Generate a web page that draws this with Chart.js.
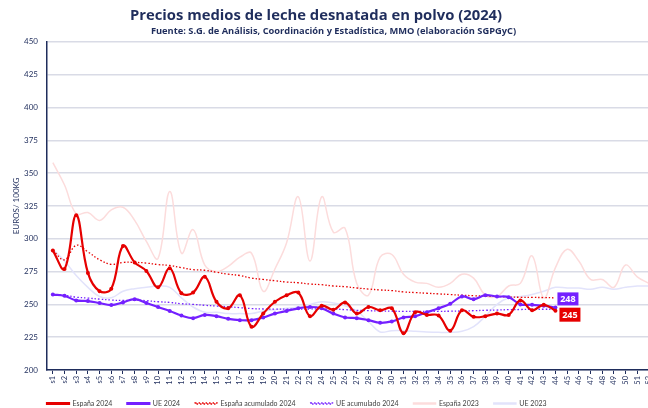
<!DOCTYPE html>
<html>
<head>
<meta charset="utf-8">
<script src="https://cdn.jsdelivr.net/npm/chart.js@4"></script>
<style>
  body { margin: 0; overflow: hidden; background: #fff; }
  #wrap { width: 660px; height: 408px; }
</style>
</head>
<body>
<div id="wrap"><canvas id="linechart"></canvas></div>
<script>
// semanas
const semanas = ['s1','s2','s3','s4','s5','s6','s7','s8','s9','s10','s11','s12','s13',
  's14','s15','s16','s17','s18','s19','s20','s21','s22','s23','s24','s25','s26',
  's27','s28','s29','s30','s31','s32','s33','s34','s35','s36','s37','s38','s39',
  's40','s41','s42','s43','s44','s45','s46','s47','s48','s49','s50','s51','s52'];

const espana2024 = [291, 277, 318, 274, 260, 262, 294.5, 282, 275.5, 263, 277.5, 258.5, 259,
  271, 252, 247, 257, 233, 243, 252, 257, 259, 241, 249, 246, 251.5,
  243, 248, 245.5, 247, 228, 244, 242, 241.5, 230, 245.5, 240.5, 241, 243,
  242, 253, 245.5, 249.7, 245.2];

const ue2024 = [257.5, 256.5, 253, 252.5, 251, 249.5, 251.5, 254, 251, 248, 245, 241.5, 239.5,
  242, 241, 239, 238, 238, 240, 243, 245, 247, 248, 247, 243, 240,
  239.5, 238, 236, 237, 240, 241, 244, 247, 250.5, 256, 254, 257, 256,
  255.5, 250, 249.7, 249, 247.7];

const espanaAcum2024 = [291, 284, 295, 290, 284, 280.5, 282, 282, 281.5, 280.3, 279.7, 278, 276.5,
  276, 274.5, 273, 272, 270, 269, 268, 267, 266.5, 265.5, 265, 264, 263.5,
  262.5, 261.7, 261, 260.5, 259.5, 259, 258.5, 258, 257.5, 257, 256.6, 256.3, 256,
  255.6, 255.4, 255.3, 255.2, 255];

const ueAcum2024 = [257.5, 257, 255.5, 254.8, 254, 253.3, 253, 253.3, 252.8, 252, 251.5, 250.5, 250,
  249.3, 248.7, 248.2, 247.5, 246.8, 246.5, 246.4, 246.4, 246.4, 246.5, 246.6, 246.5, 246,
  245.5, 245.2, 245, 244.8, 244.7, 244.6, 244.6, 244.7, 244.8, 245, 245.2, 245.5, 245.7,
  246, 246.1, 246.2, 246.3, 246.3];

const espana2023 = [358, 341, 319, 320, 314, 322, 324, 314, 298, 285, 336, 289, 307,
  280, 275, 279, 286, 289, 260, 277, 297, 332, 283, 332, 305, 308,
  266, 257, 286, 288, 273, 267, 266, 263, 266, 273, 270, 257, 256,
  264, 266, 287, 255, 278, 292, 283, 269, 269, 263, 280, 271, 266];

const ue2023 = [292, 283, 272, 263, 256, 255, 260, 262, 263, 264, 263, 255, 248,
  244, 244, 243, 243, 243, 245, 246, 247, 248, 250, 252, 251, 249,
  245, 237, 229, 230, 230, 229.5, 229, 228.7, 228.7, 229.5, 233, 241, 250,
  255, 256, 257.5, 260, 263, 262.5, 262.5, 261.5, 263, 261.5, 263, 264, 264];

const azul = '#1f2d5c';
const rojo = '#e60000';
const morado = '#7420ff';

// etiquetas del ultimo valor
const ultimoValor = {
  id: 'ultimoValor',
  afterDatasetsDraw(chart) {
    const ctx = chart.ctx;
    const marcas = [[1, morado, 2, -15, 13], [0, rojo, 4, -3, 14]];
    marcas.forEach(([i, color, dx, dy, h]) => {
      const meta = chart.getDatasetMeta(i);
      const data = chart.data.datasets[i].data;
      const pt = meta.data[data.length - 1];
      const txt = Math.round(data[data.length - 1]).toString();
      ctx.save();
      ctx.fillStyle = color;
      ctx.fillRect(pt.x + dx, pt.y + dy, 21, h);
      ctx.fillStyle = '#fff';
      ctx.font = 'bold 9px "Open Sans"';
      ctx.textAlign = 'center';
      ctx.textBaseline = 'middle';
      ctx.fillText(txt, pt.x + dx + 10.5, pt.y + dy + h / 2 + 0.5);
      ctx.restore();
    });
  }
};

// leyenda alineada con el eje y titulo algo a la izquierda
const moverCajas = {
  id: 'moverCajas',
  afterLayout(chart) {
    chart.legend.left -= 15;
    chart.legend.right -= 15;
    chart.titleBlock.left -= 35;
  }
};

Chart.defaults.font.family = 'Lato';

const ctx = document.getElementById('linechart').getContext('2d');
const myChart = new Chart(ctx, {
  type: 'line',
  data: {
    labels: semanas,
    datasets: [
      {
        label: 'España 2024',
        data: espana2024,
        borderColor: rojo,
        backgroundColor: rojo,
        borderWidth: 2.2,
        pointRadius: 2,
        pointBorderWidth: 0,
        tension: 0.4
      },
      {
        label: 'UE 2024',
        data: ue2024,
        borderColor: morado,
        backgroundColor: morado,
        borderWidth: 2.2,
        pointRadius: 2,
        pointBorderWidth: 0,
        tension: 0.4
      },
      {
        label: 'España acumulado 2024',
        data: espanaAcum2024,
        borderColor: rojo,
        backgroundColor: 'rgba(0,0,0,0)',
        borderWidth: 1.3,
        borderDash: [1.5, 2],
        pointRadius: 0,
        tension: 0.4
      },
      {
        label: 'UE acumulado 2024',
        data: ueAcum2024,
        borderColor: morado,
        backgroundColor: 'rgba(0,0,0,0)',
        borderWidth: 1.3,
        borderDash: [1.5, 2],
        pointRadius: 0,
        tension: 0.4
      },
      {
        label: 'España 2023',
        data: espana2023,
        borderColor: '#fcdcdc',
        backgroundColor: '#fcdcdc',
        borderWidth: 1.5,
        pointRadius: 0,
        tension: 0.4
      },
      {
        label: 'UE 2023',
        data: ue2023,
        borderColor: '#e2e3fb',
        backgroundColor: '#e2e3fb',
        borderWidth: 1.5,
        pointRadius: 0,
        tension: 0.4
      }
    ]
  },
  options: {
    responsive: true,
    maintainAspectRatio: false,
    animation: false,
    layout: { padding: { left: 12, right: 5, top: 0, bottom: -9 } },
    plugins: {
      title: {
        display: true,
        text: 'Precios medios de leche desnatada en polvo (2024)',
        color: azul,
        font: { family: 'Open Sans', size: 14.8, weight: 'bold' },
        padding: { top: 7, bottom: 0 }
      },
      subtitle: {
        display: true,
        text: 'Fuente: S.G. de Análisis, Coordinación y Estadística, MMO (elaboración SGPGyC)',
        color: azul,
        font: { family: 'Open Sans', size: 9.3, weight: 'bold' },
        padding: { top: 1, bottom: 5 }
      },
      legend: {
        position: 'bottom',
        align: 'start',
        fullSize: false,
        labels: {
          boxWidth: 22,
          boxHeight: 1,
          padding: 15,
          color: '#404040',
          font: { size: 7 }
        }
      },
      tooltip: { enabled: false }
    },
    scales: {
      x: {
        offset: true,
        afterFit: (scale) => { scale.height = 15; },
        grid: {
          display: true,
          drawOnChartArea: false,
          drawTicks: true,
          tickLength: 4,
          color: azul
        },
        border: { color: azul, width: 1.5 },
        ticks: {
          color: azul,
          font: { size: 7.5 },
          minRotation: 90,
          maxRotation: 90,
          autoSkip: false,
          padding: 2
        }
      },
      y: {
        min: 200,
        max: 450,
        afterFit: (scale) => { scale.width = 35; },
        ticks: {
          stepSize: 25,
          color: azul,
          font: { size: 8 },
          padding: 9
        },
        grid: {
          color: '#d9dbe6',
          lineWidth: 1.5,
          drawTicks: false
        },
        border: { color: azul, width: 1.5 },
        title: {
          display: true,
          text: 'EUROS/ 100KG',
          color: azul,
          font: { size: 8 },
          padding: { top: 0, bottom: 5 }
        }
      }
    }
  },
  plugins: [ultimoValor, moverCajas]
});
</script>
</body>
</html>
